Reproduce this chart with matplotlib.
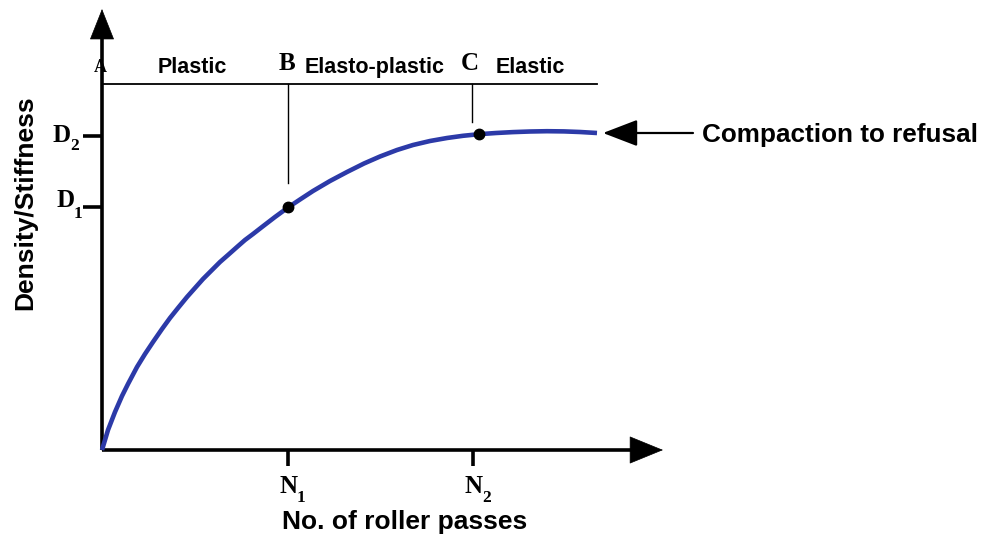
import matplotlib
matplotlib.use("Agg")
import matplotlib.pyplot as plt

# ---- data (arbitrary schematic units: x = roller passes, y = density/stiffness) ----
curve_x = [0, 6, 13, 20, 26, 35, 43, 51, 60, 68, 76, 85, 93, 101, 110, 118, 126, 135, 143,
           151, 160, 173, 186, 198, 211, 228, 245, 262, 278, 295, 311, 328, 345, 361, 377,
           394, 411, 428, 445, 462, 478, 495]
curve_y = [0, 20, 38, 54, 66, 83, 96, 108, 121, 132, 142, 153, 162, 171, 180, 188, 195, 203, 210,
           216, 223, 233, 242.5, 250.5, 259, 269, 278, 286.5, 293.5, 300, 305, 309, 312, 314.2, 315.8,
           317, 317.9, 318.5, 318.8, 318.6, 318, 317]
point_x = [186, 377]          # B, C
point_y = [243, 316]
n_ticks = [186, 371]          # N1, N2
n_sub = ["1", "2"]
d_ticks = [243, 314]          # D1, D2
d_sub = ["1", "2"]
zone_line_y = 366
zone_line_end = 495
marker_lines_x = [186, 370]   # B, C
marker_lines_bottom = [267, 328]
marker_letters = ["B", "C"]
zone_labels = ["Plastic", "Elasto-plastic", "Elastic"]
zone_label_x = [90, 273, 428]
x_axis_end = 561
y_axis_end = 441

SANS = ["Liberation Sans", "DejaVu Sans"]
SERIF = ["Liberation Serif", "DejaVu Serif"]

fig = plt.figure(figsize=(9.87, 5.37), dpi=100)
ax = fig.add_axes([0, 0, 1, 1])
ax.set_xlim(-102, 885)
ax.set_ylim(-87, 450)
ax.axis("off")

# axes lines with arrowheads
ax.plot([0, 0], [0, y_axis_end - 25], color="black", lw=2.6, solid_capstyle="butt", zorder=3)
ax.plot([0, x_axis_end - 28], [0, 0], color="black", lw=2.6, solid_capstyle="butt", zorder=3)
ax.annotate("", xy=(0, y_axis_end), xytext=(0, 0),
            arrowprops=dict(arrowstyle="-|>,head_length=2.09,head_width=0.83",
                            mutation_scale=10, lw=0.5, color="black", shrinkA=0, shrinkB=0), zorder=3)
ax.annotate("", xy=(x_axis_end, 0), xytext=(0, 0),
            arrowprops=dict(arrowstyle="-|>,head_length=2.3,head_width=0.94",
                            mutation_scale=10, lw=0.5, color="black", shrinkA=0, shrinkB=0), zorder=3)

# zone line
ax.plot([0, zone_line_end], [zone_line_y, zone_line_y], color="black", lw=1.3, zorder=2)
for mx, mb in zip(marker_lines_x, marker_lines_bottom):
    ax.plot([mx, mx], [zone_line_y, mb], color="black", lw=1.0, zorder=2)

# ticks
for nx, s in zip(n_ticks, n_sub):
    ax.plot([nx, nx], [0, -16], color="black", lw=2.6, solid_capstyle="butt", zorder=3)
    ax.text(nx + 1, -43, "N", family=SERIF, fontweight="bold", fontsize=18,
            ha="center", va="baseline")
    ax.text(nx + 9, -52, s, family=SERIF, fontweight="bold", fontsize=12.5,
            ha="left", va="baseline")
for dy, s, base, sub in zip(d_ticks, d_sub, [243, 308], [232, 300]):
    ax.plot([-19, 0], [dy, dy], color="black", lw=2.6, solid_capstyle="butt", zorder=3)
    ax.text(-27 if s == "1" else -31, base, "D", family=SERIF, fontweight="bold", fontsize=18,
            ha="right", va="baseline")
    ax.text(-28 if s == "1" else -32, sub, s, family=SERIF, fontweight="bold", fontsize=12.5,
            ha="left", va="baseline")

# curve and points
ax.plot(curve_x, curve_y, color="#2c3aa8", lw=3.3, solid_joinstyle="round",
        solid_capstyle="butt", zorder=4)
ax.plot(point_x, point_y, "o", color="black", markersize=7.5, zorder=5)

# labels at top
ax.text(-2, 378, "A", family=SERIF, fontweight="bold", fontsize=13, ha="center",
        va="baseline", zorder=1)
for lx, lab in zip(zone_label_x, zone_labels):
    ax.text(lx, 377, lab, family=SANS, fontweight="bold", fontsize=15.5,
            ha="center", va="baseline")
for mx, lab in zip([185, 368], marker_letters):
    ax.text(mx, 380, lab, family=SERIF, fontweight="bold", fontsize=18,
            ha="center", va="baseline")

# compaction to refusal
ax.annotate("", xy=(501, 317), xytext=(591, 317),
            arrowprops=dict(arrowstyle="-|>,head_length=2.16,head_width=0.83",
                            mutation_scale=10, lw=1.6, color="black", shrinkA=0, shrinkB=0))
ax.text(600, 308, "Compaction to refusal", family=SANS, fontweight="bold",
        fontsize=18.8, ha="left", va="baseline")

# axis titles
ax.text(303, -79, "No. of roller passes", family=SANS, fontweight="bold",
        fontsize=19, ha="center", va="baseline")
ax.text(-70, 247, "Density/Stiffness", family=SANS, fontweight="bold",
        fontsize=19, ha="center", va="baseline", rotation=90, rotation_mode="anchor")

fig.savefig("out.png", dpi=100)
